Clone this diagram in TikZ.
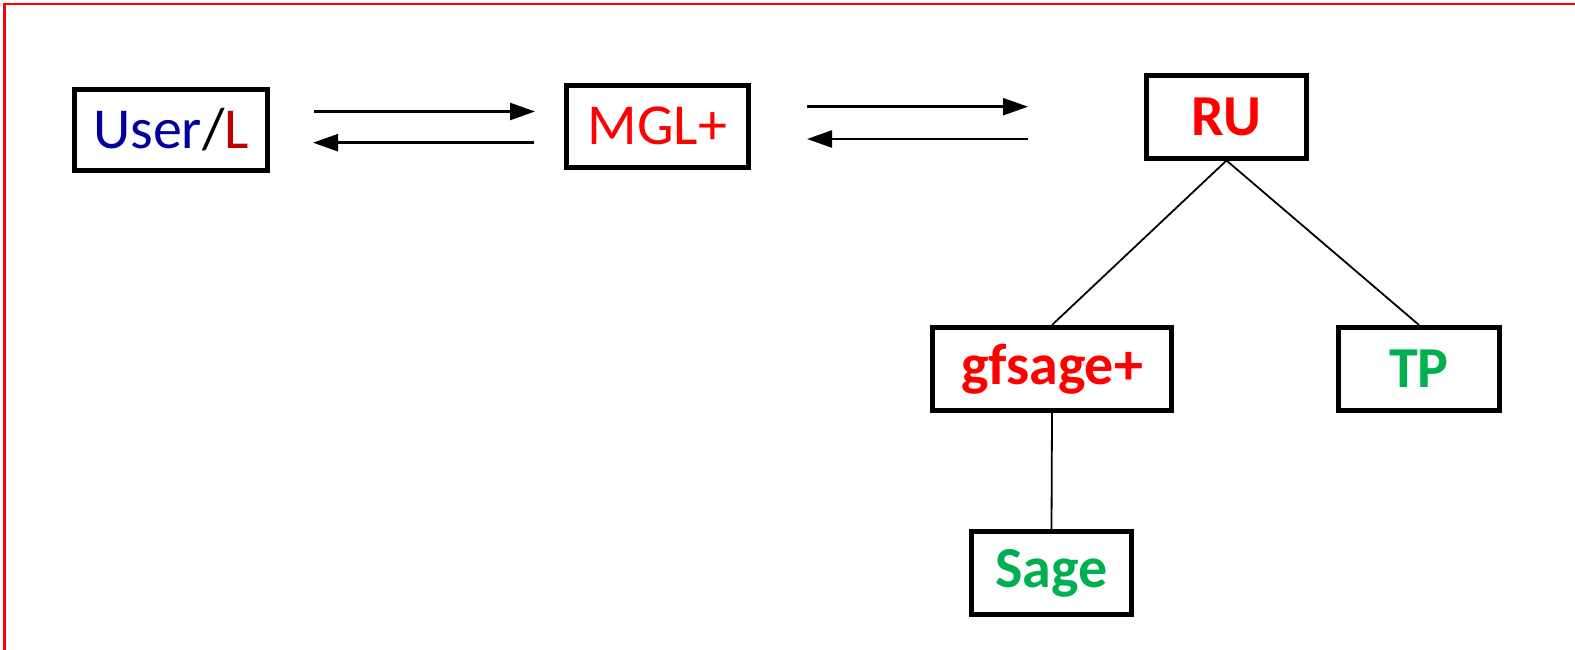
\documentclass[tikz,border=0pt]{standalone}
\usepackage{fontspec}
\setmainfont{Carlito}
\usetikzlibrary{arrows.meta}
\definecolor{ublue}{HTML}{00009C}
\definecolor{ldred}{HTML}{C00000}
\definecolor{bred}{HTML}{FF0000}
\definecolor{bgreen}{HTML}{00B050}
\tikzset{
  box/.style={draw=black, line width=2.5bp, fill=white, inner sep=0pt,
    font=\fontsize{29bp}{35bp}\selectfont},
  boldbox/.style={box, font=\fontsize{29bp}{35bp}\selectfont\bfseries},
  link/.style={draw=black, line width=0.9bp},
  flow/.style={draw=black, line width=1.2bp, -{Triangle[length=12.5bp,width=8.5bp]}},
  frame/.style={draw=bred, line width=1bp}
}
\begin{document}
\begin{tikzpicture}[x=0.5bp,y=-0.5bp]
\useasboundingbox (0,0) rectangle (1575,650);
\fill[white] (0,0) rectangle (1575,650);
\draw[frame] (4.5,650) -- (4.5,4.5) -- (1575,4.5);

\node[box, minimum width=96bp, minimum height=40.75bp] (user) at (171,129.8)
  {\textcolor{ublue}{User}/\textcolor{ldred}{L}};
\node[box, minimum width=91bp, minimum height=41bp, text=bred] (mgl) at (657.5,126.3) {MGL+};
\node[boldbox, minimum width=80bp, minimum height=41bp, text=bred] (ru) at (1226.5,117) {RU};
\node[boldbox, minimum width=119.5bp, minimum height=41.5bp, text=bred] (gf) at (1052,369) {gfsage+};
\node[boldbox, minimum width=80.5bp, minimum height=41.5bp, text=bgreen] (tp) at (1419,369) {TP};
\node[boldbox, minimum width=80bp, minimum height=41.5bp, text=bgreen] (sage) at (1051.5,573) {Sage};

\draw[link] (ru.south) -- (gf.north);
\draw[link] (ru.south) -- (tp.north);
\draw[link] (gf.south) -- (sage.north);

\coordinate (a1s) at (314,111.5);
\coordinate (a1e) at (535,111.5);
\coordinate (a2s) at (534,142.7);
\coordinate (a2e) at (313,142.7);
\coordinate (b1s) at (807,106.7);
\coordinate (b1e) at (1028,106.7);
\coordinate (b2s) at (1028,139);
\coordinate (b2e) at (807,139);
\draw[flow] (a1s) -- (a1e);
\draw[flow] (a2s) -- (a2e);
\draw[flow] (b1s) -- (b1e);
\draw[flow] (b2s) -- (b2e);
\end{tikzpicture}
\end{document}
